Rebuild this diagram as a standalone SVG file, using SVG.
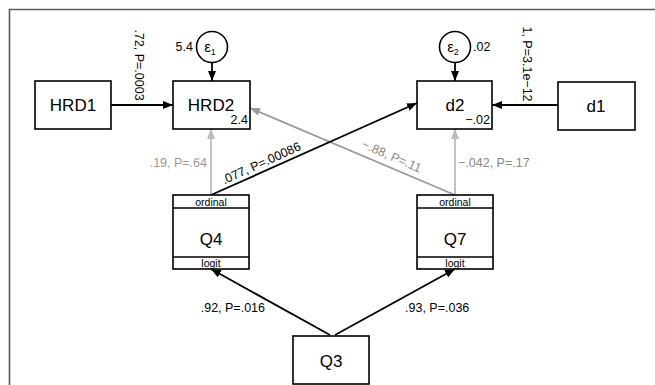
<svg xmlns="http://www.w3.org/2000/svg" width="655" height="385" viewBox="0 0 655 385">
<defs>
<style>
text{font-family:"Liberation Sans",Arial,sans-serif;fill:#000}
.box{fill:#fff;stroke:#000;stroke-width:1.6}
.nl{font-size:17px;text-anchor:middle}
.sm{font-size:12.5px}
.tiny{font-size:10.5px;text-anchor:middle}
.blk{stroke:#000;stroke-width:1.8;fill:none}
.g1{stroke:#999;stroke-width:1.8;fill:none}
.g2{stroke:#bbb;stroke-width:1.8;fill:none}
</style>
<marker id="ab" markerWidth="10" markerHeight="8" refX="10" refY="4" orient="auto" markerUnits="userSpaceOnUse"><path d="M0,0 L10,4 L0,8 Z" fill="#000"/></marker>
<marker id="ag1" markerWidth="10" markerHeight="8" refX="10" refY="4" orient="auto" markerUnits="userSpaceOnUse"><path d="M0,0 L10,4 L0,8 Z" fill="#999"/></marker>
<marker id="ag2" markerWidth="10" markerHeight="8" refX="10" refY="4" orient="auto" markerUnits="userSpaceOnUse"><path d="M0,0 L10,4 L0,8 Z" fill="#bbb"/></marker>
</defs>
<rect width="655" height="385" fill="#fff"/>
<path d="M9.5,385 V9.5 H655" fill="none" stroke="#5a5a5a" stroke-width="1.6"/>

<g id="connectors">
<line class="blk" x1="111" y1="105" x2="173" y2="105" marker-end="url(#ab)"/>
<line class="blk" x1="212" y1="62.5" x2="212" y2="81" marker-end="url(#ab)"/>
<line class="blk" x1="455" y1="62.5" x2="455" y2="81" marker-end="url(#ab)"/>
<line class="blk" x1="558" y1="105" x2="492" y2="105" marker-end="url(#ab)"/>
<line class="g2" x1="211" y1="195" x2="211" y2="129" marker-end="url(#ag2)"/>
<line class="g2" x1="455" y1="195" x2="455" y2="129" marker-end="url(#ag2)"/>
<line class="g1" x1="455" y1="195" x2="250" y2="108" marker-end="url(#ag1)"/>
<line class="blk" x1="211" y1="195" x2="417" y2="103" marker-end="url(#ab)"/>
<line class="blk" x1="330" y1="335" x2="211" y2="269" marker-end="url(#ab)"/>
<line class="blk" x1="335" y1="335" x2="455" y2="269" marker-end="url(#ab)"/>
<text class="sm" transform="translate(135,65) rotate(90)" text-anchor="middle">.72, P=.0003</text>
<text class="sm" transform="translate(523,64) rotate(90)" text-anchor="middle">1, P=3.1e−12</text>
<text class="sm" x="207" y="167" text-anchor="end" style="fill:#999">.19, P=.64</text>
<text class="sm" x="458" y="167" style="fill:#888">−.042, P=.17</text>
<text class="sm" transform="translate(263,167) rotate(-24.3)" text-anchor="middle">.077, P=.00086</text>
<text class="sm" transform="translate(390,160) rotate(23.4)" text-anchor="middle" style="fill:#888">−.88, P=.11</text>
<text class="sm" x="265" y="312" text-anchor="end">.92, P=.016</text>
<text class="sm" x="405" y="312">.93, P=.036</text>
</g>

<g id="HRD1">
<rect class="box" x="35" y="81" width="76" height="48"/>
<text class="nl" x="73" y="111">HRD1</text>
</g>
<g id="HRD2">
<rect class="box" x="173" y="81" width="77" height="48"/>
<text class="nl" x="211" y="111">HRD2</text>
<text class="sm" x="248" y="124" text-anchor="end">2.4</text>
</g>
<g id="e1">
<circle cx="212" cy="47" r="15.5" fill="#fff" stroke="#000" stroke-width="1.6"/>
<text x="210" y="52" font-size="15" text-anchor="middle">ε<tspan font-size="9" dy="3">1</tspan></text>
<text class="sm" x="193" y="51" text-anchor="end">5.4</text>
</g>
<g id="d2">
<rect class="box" x="417" y="81" width="75" height="48"/>
<text class="nl" x="455" y="111">d2</text>
<text class="sm" x="490" y="124" text-anchor="end">−.02</text>
</g>
<g id="e2">
<circle cx="455" cy="47" r="15.5" fill="#fff" stroke="#000" stroke-width="1.6"/>
<text x="453" y="52" font-size="15" text-anchor="middle">ε<tspan font-size="9" dy="3">2</tspan></text>
<text class="sm" x="473" y="51">.02</text>
</g>
<g id="d1">
<rect class="box" x="558" y="82" width="77" height="48"/>
<text class="nl" x="596" y="112">d1</text>
</g>
<g id="Q4">
<rect class="box" x="173" y="195" width="76" height="74"/>
<line x1="173" y1="208" x2="249" y2="208" stroke="#000" stroke-width="1.4"/>
<line x1="173" y1="257" x2="249" y2="257" stroke="#000" stroke-width="1.4"/>
<text class="tiny" x="211" y="206">ordinal</text>
<text class="nl" x="211" y="245">Q4</text>
<text class="tiny" x="211" y="267">logit</text>
</g>
<g id="Q7">
<rect class="box" x="417" y="195" width="76" height="74"/>
<line x1="417" y1="208" x2="493" y2="208" stroke="#000" stroke-width="1.4"/>
<line x1="417" y1="257" x2="493" y2="257" stroke="#000" stroke-width="1.4"/>
<text class="tiny" x="455" y="206">ordinal</text>
<text class="nl" x="455" y="245">Q7</text>
<text class="tiny" x="455" y="267">logit</text>
</g>
<g id="Q3">
<rect class="box" x="293" y="336" width="76" height="48"/>
<text class="nl" x="331" y="367">Q3</text>
</g>
</svg>
